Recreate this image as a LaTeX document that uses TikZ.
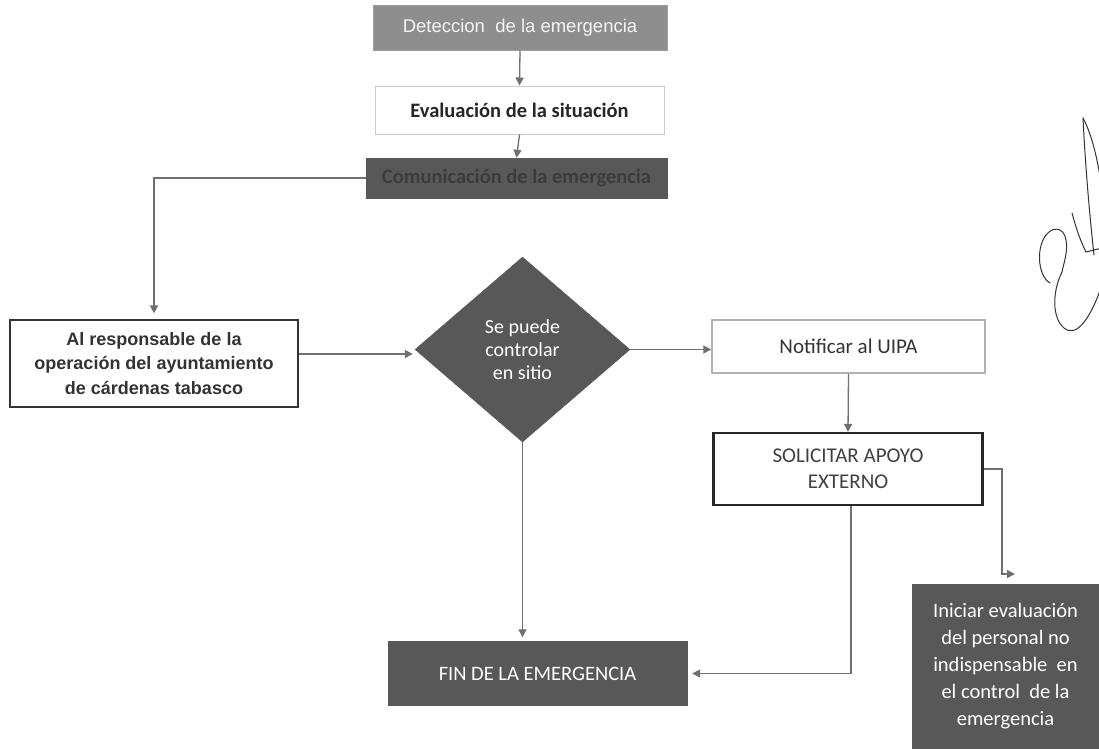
\documentclass[tikz,border=0pt]{standalone}
\usepackage{fontspec}
\setmainfont{Carlito}
\newfontfamily\arial{Liberation Sans}
\usetikzlibrary{shapes.geometric,arrows.meta}
\definecolor{midgray}{HTML}{8E8E8E}
\definecolor{darkfill}{HTML}{585858}
\definecolor{linegray}{HTML}{707070}
\definecolor{dimtext}{HTML}{3C3C3C}
\begin{document}
\begin{tikzpicture}[x=1pt,y=-1pt,
  box/.style={rectangle,inner sep=0pt,align=center},
  arr/.style={draw=linegray,line width=1.3pt,-{Triangle[length=8pt,width=8pt]}},
  cfont/.style={font=\fontsize{21}{26}\selectfont},
  sig/.style={black!80,line width=1pt,line cap=round}]
\useasboundingbox (0,0) rectangle (1099,748);
\fill[white] (0,0) rectangle (1099,748);

\node[box,fill=midgray,draw=midgray!85!white,line width=1pt,minimum width=294pt,minimum height=45pt,
  text=white!92!gray,font=\arial\fontsize{18.5}{22}\selectfont] (det) at (520,27.5) {Deteccion\ \ de la emergencia};
\node[box,fill=white,draw=gray!40,line width=1pt,minimum width=289pt,minimum height=48pt,
  font=\bfseries\fontsize{20.5}{24}\selectfont,text=black!85] (eval) at (519.5,110) {Evaluación de la situación};
\node[box,fill=darkfill,draw=darkfill,minimum width=301pt,minimum height=40pt,
  text=dimtext,font=\bfseries\fontsize{20.5}{24}\selectfont] (com) at (516.5,178) {Comunicación de la emergencia};

\node[box,fill=white,draw=black!80,line width=1.2pt,minimum width=288pt,minimum height=87pt,
  text=black!80,font=\arial\bfseries\fontsize{18}{24.5}\selectfont] (al) at (154,363.5)
  {Al responsable de la\\operación del ayuntamiento\\de cárdenas tabasco};

\node[diamond,fill=darkfill,draw=darkfill,inner sep=0pt,minimum width=215pt,minimum height=185pt,
  text=white,align=center,font=\fontsize{20}{23}\selectfont] (dia) at (522.5,349.5)
  {Se puede\\controlar\\en sitio};

\node[box,fill=white,draw=gray!60,line width=1.5pt,minimum width=273pt,minimum height=53pt,
  text=black!80,cfont] (noti) at (848.5,346.5) {Notificar al UIPA};
\node[box,fill=white,draw=black!85,line width=2.2pt,minimum width=269pt,minimum height=72pt,
  text=black!75,cfont] (sol) at (848,469) {SOLICITAR APOYO\\EXTERNO};

\node[box,fill=darkfill,draw=darkfill,minimum width=299pt,minimum height=64pt,
  text=white,font=\fontsize{20.5}{24}\selectfont] (fin) at (537.5,673.5) {FIN DE LA EMERGENCIA};
\node[box,fill=darkfill,draw=darkfill,minimum width=187pt,minimum height=164pt,
  text=white,font=\fontsize{20.5}{27}\selectfont] (ini) at (1005.5,666)
  {Iniciar evaluación\\del personal no\\indispensable\ \ en\\el control\ \ de la\\emergencia};

\draw[arr] (det.south) -- (eval.north);
\draw[arr] (eval.south) -- (com.north);
\draw[arr,shorten >=6pt] (com.west) -| (al.north);
\draw[arr,shorten >=2pt] (al.east |- 0,354) -- (dia.west |- 0,354);
\draw[arr] (dia.east) -- (dia.east -| noti.west);
\draw[arr] (noti.south) -- (sol.north);
\draw[arr,shorten >=4pt] (dia.south) -- (dia.south |- fin.north);
\draw[arr,shorten >=5pt] ([xshift=3pt]sol.south) |- (fin.east);
\coordinate (bend) at (1002,574);
\coordinate (iniin) at (1015,574);
\draw[arr] (sol.east) -| (bend) -- (iniin);

% signature
\begin{scope}
\clip (1000,100) rectangle (1099,350);
\draw[sig] (1083,118) .. controls (1085,160) and (1089,210) .. (1094,255);
\draw[sig] (1083,118) .. controls (1092,135) and (1098,160) .. (1102,190);
\draw[sig] (1072,213) .. controls (1076,228) and (1080,240) .. (1086,252) -- (1102,248);
\draw[sig] (1050,283) .. controls (1040,278) and (1036,255) .. (1043,240)
  .. controls (1050,225) and (1064,226) .. (1066,240)
  .. controls (1068,252) and (1064,262) .. (1062,272)
  .. controls (1052,292) and (1052,318) .. (1064,328)
  .. controls (1076,338) and (1090,320) .. (1102,285);
\end{scope}
\end{tikzpicture}
\end{document}
